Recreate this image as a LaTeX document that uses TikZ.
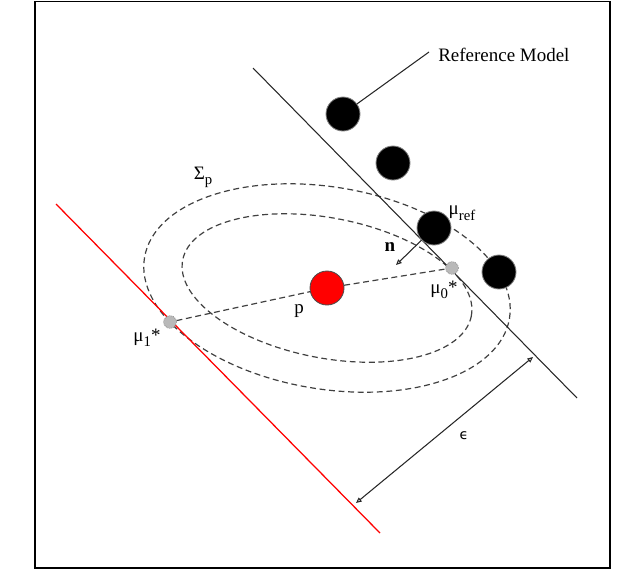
\documentclass[tikz,border=0pt]{standalone}
\usepackage{fontspec}
\setmainfont{Liberation Serif}
\newfontfamily\symbolfont{DejaVu Sans}
\usetikzlibrary{arrows.meta,positioning}

\tikzset{
  modelpt/.style={circle,fill=black,draw=gray,line width=.6pt,minimum size=.85cm,inner sep=0pt},
  projpt/.style={circle,fill=gray!55,draw=gray!60!black,densely dotted,minimum size=.32cm,inner sep=0pt},
  covline/.style={gray!50!black,line width=.85pt,dash pattern=on 4.2pt off 2.6pt},
  thinline/.style={gray!30!black,line width=.75pt},
  lbl/.style={inner sep=0pt,font=\fontsize{13.5}{16}\selectfont},
}
\newcommand{\lowsub}[1]{\raisebox{-.6ex}{\fontsize{10.5}{12}\selectfont #1}}

\begin{document}
\begin{tikzpicture}
      \useasboundingbox (0,0) rectangle (16,-14.625);

      % outer frame
      \draw[black,line width=1pt] (0.875,-0.03) rectangle (15.25,-14.2);

      % covariance ellipses round p
      \coordinate (pc) at (8.175,-7.2);
      \draw[covline,rotate around={-9.5:(pc)}] (pc) ellipse [x radius=4.625,y radius=2.525];
      \draw[covline,rotate around={-11:(pc)}] (pc) ellipse [x radius=3.675,y radius=1.75];

      % reference plane and shifted plane
      \coordinate (refa) at (6.325,-1.7);
      \coordinate (refb) at (14.425,-9.95);
      \draw[thinline] (refa) -- (refb);
      \coordinate (reda) at (1.4,-5.1);
      \coordinate (redb) at (9.5,-13.325);
      \draw[red,line width=.9pt] (reda) -- (redb);

      % model points
      \node[modelpt] (m1) at (8.575,-2.85) {};
      \node[modelpt] (m2) at (9.825,-4.075) {};
      \node[modelpt] (mref) at (10.85,-5.7) {};
      \node[modelpt] (m4) at (12.475,-6.8) {};

      % query point and projections
      \node[circle,fill=red,draw=gray!60!black,line width=.6pt,minimum size=.85cm,inner sep=0pt] (p) at (8.175,-7.2) {};
      \node[projpt] (mu0) at (11.3,-6.7) {};
      \node[projpt] (mu1) at (4.25,-8.05) {};
      \draw[covline] (mu1) -- (p);
      \draw[covline] (p) -- (mu0);

      % normal
      \coordinate (ntip) at (9.9,-6.625);
      \draw[thinline,-{Triangle[open,length=4pt,width=3.5pt]}] (mref) -- (ntip);

      % distance epsilon
      \coordinate (epsa) at (8.9,-12.575);
      \coordinate (epsb) at (13.325,-8.925);
      \draw[thinline,{Triangle[open,length=4pt,width=3.5pt]}-{Triangle[open,length=4pt,width=3.5pt]}] (epsa) -- (epsb);

      % leader to label
      \coordinate (lead) at (10.725,-1.3);
      \draw[thinline] (m1) -- (lead);
      \node[lbl,anchor=west] (refmodel) at (10.95,-1.375) {Reference Model};

      % labels
      \node[lbl] (sigmalbl) at (5.075,-4.425) {Σ\lowsub{p}};
      \node[lbl] (mureflbl) at (11.55,-5.33) {μ\lowsub{ref}};
      \node[lbl] (mu0lbl) at (11.1,-7.25) {μ\lowsub{0}*};
      \node[lbl] (mu1lbl) at (3.675,-8.45) {μ\lowsub{1}*};
      \node[lbl] (plbl) at (7.475,-7.775) {p};
      \node[lbl] (nlbl) at (9.75,-6.175) {\textbf{n}};
      \node[lbl] (epslbl) at (11.6,-10.9) {\symbolfont\fontsize{10}{12}\selectfont ϵ};
\end{tikzpicture}
\end{document}
